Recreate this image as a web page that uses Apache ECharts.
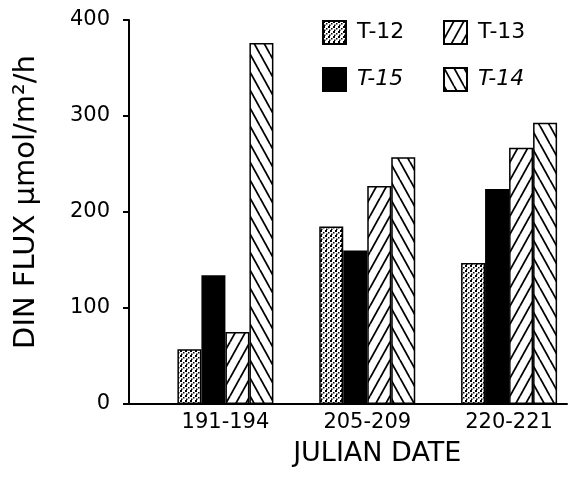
<!DOCTYPE html>
<html>
<head>
<meta charset="utf-8">
<script src="https://cdn.jsdelivr.net/npm/echarts@6/dist/echarts.min.js"></script>
<style>html,body{margin:0;padding:0;background:#fff}#c{width:580px;height:491px}</style>
</head>
<body>
<div id="c"></div>
<script>
const categories = ['191-194', '205-209', '220-221'];
const seriesNames = ['T-12', 'T-15', 'T-13', 'T-14'];
const t12 = [57, 185, 147];
const t15 = [134, 160, 224];
const t13 = [75, 227, 267];
const t14 = [376, 257, 293];
const yMin = 0, yMax = 400, yStep = 100;

function dotPattern() {
  const c = document.createElement('canvas');
  c.width = 5; c.height = 5;
  const g = c.getContext('2d');
  g.fillStyle = '#fff'; g.fillRect(0, 0, 5, 5);
  g.fillStyle = '#000';
  g.fillRect(0, 0, 2, 2);
  g.fillRect(3, 2, 1.5, 1.5);
  g.fillRect(1, 3.5, 1.5, 1.5);
  return c;
}
function hatchPattern(dir) {
  const w = 10, h = 18;
  const c = document.createElement('canvas');
  c.width = w; c.height = h;
  const g = c.getContext('2d');
  g.fillStyle = '#fff'; g.fillRect(0, 0, w, h);
  g.strokeStyle = '#000'; g.lineWidth = 1.8;
  for (let k = -1; k <= 1; k++) {
    g.beginPath();
    if (dir > 0) { g.moveTo(k * w, h); g.lineTo(k * w + w, 0); }
    else { g.moveTo(k * w, 0); g.lineTo(k * w + w, h); }
    g.stroke();
  }
  return c;
}

const fills = {
  'T-12': { image: dotPattern(), repeat: 'repeat' },
  'T-15': '#000',
  'T-13': { image: hatchPattern(1), repeat: 'repeat' },
  'T-14': { image: hatchPattern(-1), repeat: 'repeat' }
};
const values = { 'T-12': t12, 'T-15': t15, 'T-13': t13, 'T-14': t14 };

const font = 'DejaVu Sans';
const legendPos = [
  { name: 'T-12', left: 322, top: 20, italic: false },
  { name: 'T-13', left: 443, top: 20, italic: false },
  { name: 'T-15', left: 322, top: 67, italic: true },
  { name: 'T-14', left: 443, top: 67, italic: true }
];

const chart = echarts.init(document.getElementById('c'), null, { renderer: 'canvas' });
chart.setOption({
  animation: false,
  backgroundColor: '#fff',
  grid: [
    { left: 129, right: 13, top: 20, bottom: 87 },
    { left: 154.5, width: 429, top: 20, bottom: 87 }
  ],
  legend: legendPos.map(p => ({
    data: [p.name], left: p.left, top: p.top, padding: 0,
    itemWidth: 23, itemHeight: 23, icon: 'rect', selectedMode: false,
    textStyle: { fontFamily: font, fontSize: 22, color: '#000', fontStyle: p.italic ? 'italic' : 'normal', padding: [0, 0, 0, 6] }
  })),
  xAxis: [
    { type: 'value', gridIndex: 0, min: 0, max: 1,
      axisLine: { show: true, lineStyle: { color: '#000', width: 2 } },
      axisTick: { show: false }, axisLabel: { show: false }, splitLine: { show: false } },
    { type: 'category', gridIndex: 1, data: categories,
      axisLine: { show: false }, axisTick: { show: false },
      axisLabel: { fontFamily: font, fontSize: 21, color: '#000', margin: 8 },
      name: 'JULIAN DATE', nameLocation: 'middle', nameGap: 36,
      nameTextStyle: { fontFamily: font, fontSize: 27, color: '#000', padding: [0, 0, 0, 20] } }
  ],
  yAxis: [
    { type: 'value', gridIndex: 0, min: yMin, max: yMax, interval: yStep,
      axisLine: { show: true, lineStyle: { color: '#000', width: 2 } },
      axisTick: { show: true, length: 6, lineStyle: { color: '#000', width: 2 } },
      axisLabel: { fontFamily: font, fontSize: 21, color: '#000', margin: 19 },
      splitLine: { show: false },
      name: 'DIN FLUX μmol/m²/h', nameLocation: 'middle', nameGap: 88, nameRotate: 90,
      nameTextStyle: { fontFamily: font, fontSize: 29, color: '#000', padding: [0, 0, 0, 20] } },
    { type: 'value', gridIndex: 1, min: yMin, max: yMax, interval: yStep, show: false }
  ],
  series: seriesNames.map(n => ({
    name: n, type: 'bar', xAxisIndex: 1, yAxisIndex: 1,
    data: values[n], barWidth: 24, barGap: '0%',
    itemStyle: { color: fills[n], borderColor: '#000', borderWidth: 1.5 }
  }))
});
</script>
</body>
</html>
